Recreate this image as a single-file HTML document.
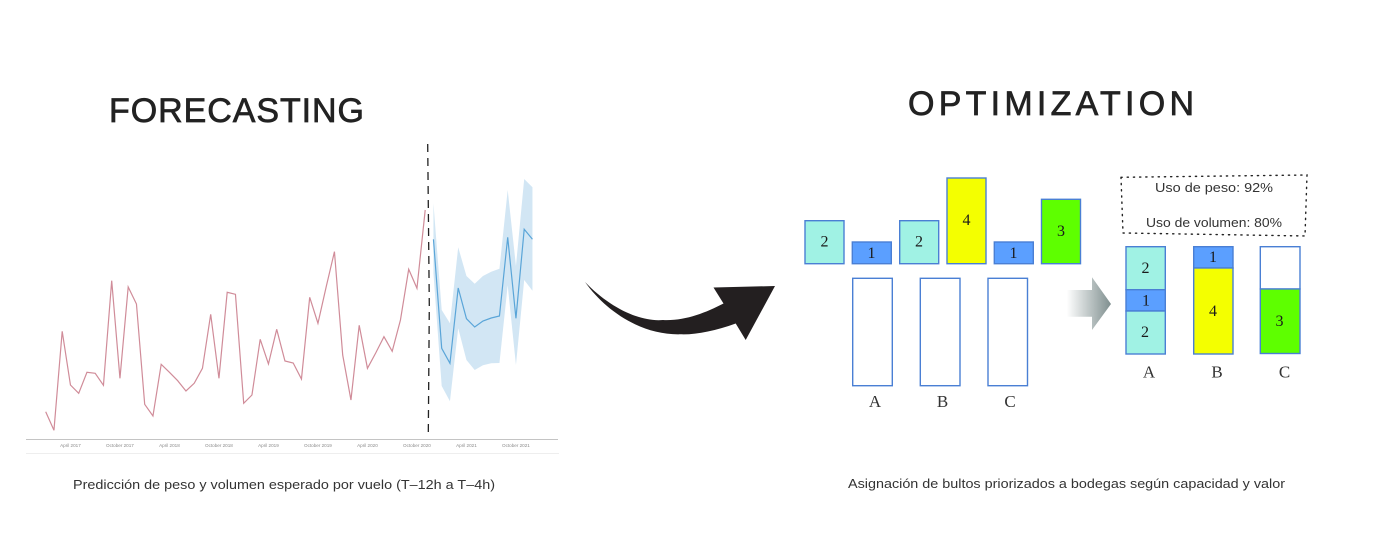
<!DOCTYPE html>
<html lang="es">
<head>
<meta charset="utf-8">
<title>Forecasting and Optimization</title>
<style>
html,body{margin:0;padding:0;background:#fff;width:1380px;height:534px;overflow:hidden}
svg{display:block}
.title{font-family:"Liberation Sans",sans-serif;font-size:34px;fill:#222;stroke:#222;stroke-width:.7}
.cap{font-family:"Liberation Sans",sans-serif;font-size:13px;fill:#333}
.num{font-family:"Liberation Serif",serif;font-size:16px;fill:#1a1a1a;text-anchor:middle}
.bin{font-family:"Liberation Serif",serif;font-size:17px;fill:#333;text-anchor:middle}
.use{font-family:"Liberation Sans",sans-serif;font-size:13px;fill:#333}
.b{stroke:#4a7fd4;stroke-width:1.4}
.teal{fill:#a0f2e4}.blue{fill:#5b9fff}.yel{fill:#f4ff00}.grn{fill:#5eff00}.emp{fill:#fff}
</style>
</head>
<body>
<svg id="root" width="1380" height="534" viewBox="0 0 1380 534" xmlns="http://www.w3.org/2000/svg">
<defs>
<linearGradient id="gray-fade" x1="0" x2="1" y1="0" y2="0">
<stop offset="0" stop-color="#fff"/>
<stop offset="1" stop-color="#7f8f8f"/>
</linearGradient>
</defs>

<text class="title" x="109" y="122" textLength="255" lengthAdjust="spacing">FORECASTING</text>
<text class="title" x="908" y="115" textLength="286" lengthAdjust="spacing">OPTIMIZATION</text>

<g id="chart"></g>

<text class="cap" x="73" y="489" textLength="422" lengthAdjust="spacingAndGlyphs">Predicción de peso y volumen esperado por vuelo (T–12h a T–4h)</text>
<text class="cap" x="848" y="488" textLength="437" lengthAdjust="spacingAndGlyphs">Asignación de bultos priorizados a bodegas según capacidad y valor</text>

<path d="M585 282 C610 308 640 322 663 320 C685 321 705 313 723.500 303.500 L713.500 287.500 L775 286 L745.700 340 L735.700 323.500 C715 331 695 335 680 334.300 C640 335 605 310 585 282 Z" fill="#231f20"/>

<g>
<rect class="b teal" x="805" y="220.700" width="39" height="43"/>
<text class="num" x="824.500" y="246.500">2</text>
<rect class="b blue" x="852.300" y="242" width="39" height="21.700"/>
<text class="num" x="871.500" y="258">1</text>
<rect class="b teal" x="899.700" y="220.700" width="39" height="43"/>
<text class="num" x="919" y="246.500">2</text>
<rect class="b yel" x="947" y="178" width="39" height="85.700"/>
<text class="num" x="966.500" y="225">4</text>
<rect class="b blue" x="994.300" y="242" width="39" height="21.700"/>
<text class="num" x="1013.500" y="258">1</text>
<rect class="b grn" x="1041.500" y="199.300" width="39" height="64.400"/>
<text class="num" x="1061" y="236">3</text>
</g>

<g>
<rect class="b emp" x="852.700" y="278.300" width="39.600" height="107.400"/>
<rect class="b emp" x="920.300" y="278.300" width="39.700" height="107.400"/>
<rect class="b emp" x="988" y="278.300" width="39.500" height="107.400"/>
<text class="bin" x="875" y="407">A</text>
<text class="bin" x="942.500" y="407">B</text>
<text class="bin" x="1010" y="407">C</text>
</g>

<path d="M1066.700 290 H1092 V277.300 L1111 304 L1092 330 V316.700 H1066.700 Z" fill="url(#gray-fade)"/>

<path d="M1121 177.300 L1307 175 L1305 236 L1123 233 Z" fill="none" stroke="#222" stroke-width="1.400" stroke-dasharray="1.200 5" stroke-linecap="round"/>
<text class="use" x="1155" y="192" textLength="118" lengthAdjust="spacingAndGlyphs">Uso de peso: 92%</text>
<text class="use" x="1146" y="227" textLength="136" lengthAdjust="spacingAndGlyphs">Uso de volumen: 80%</text>

<g>
<rect class="b teal" x="1126" y="246.700" width="39.300" height="43"/>
<rect class="b blue" x="1126" y="289.700" width="39.300" height="21.300"/>
<rect class="b teal" x="1126" y="311" width="39.300" height="43"/>
<text class="num" x="1145.500" y="273">2</text>
<text class="num" x="1146" y="305.500">1</text>
<text class="num" x="1145" y="337">2</text>

<rect class="b blue" x="1193.700" y="246.700" width="39.300" height="21.300"/>
<rect class="b yel" x="1193.700" y="268" width="39.300" height="86"/>
<text class="num" x="1213" y="262">1</text>
<text class="num" x="1213" y="316">4</text>

<rect class="b emp" x="1260.300" y="246.700" width="39.700" height="42.300"/>
<rect class="b grn" x="1260.300" y="289" width="39.700" height="64.500"/>
<text class="num" x="1279.500" y="326">3</text>

<text class="bin" x="1149" y="377.500">A</text>
<text class="bin" x="1217" y="377.500">B</text>
<text class="bin" x="1284.500" y="377.500">C</text>
</g>
</svg>

<script>
const historyValues = [27.3,8.7,107.7,54,45.7,66.7,65.7,53.7,158.3,60.7,152,135,34.7,23,74.7,66.7,58.3,48,55.7,70.7,124.7,60.7,146.7,144.7,35.7,44,99.7,75,109.7,78,76,60,141.7,115.7,152.3,187.3,84,39,113.7,70.7,86,102.3,87.7,119,169.7,150.7,229];
const forecastValues = [199.7,90.7,75.7,151,120.3,112,118,121,123,201.7,120.7,209.7,199.7];
const forecastUpper = [235.7,129,115.7,191.7,163,155.3,163,167.3,170.3,249,173,260,251.7];
const forecastLower = [165.7,53,37.7,110.7,79,69,73.7,75.7,76,153.7,74,159,148.3];
const tickLabels = ["April 2017","October 2017","April 2018","October 2018","April 2019","October 2019","April 2020","October 2020","April 2021","October 2021"];
const firstTickMonth = 3;
const monthsPerTick = 6;
const forecastStartMonth = historyValues.length;

function xScale(month){ return 45.7 + month * 8.25; }
function yScale(value){ return 439 - value; }

const NS = "http://www.w3.org/2000/svg";
const chart = document.getElementById("chart");

function linePoints(values, startMonth){
  return values.map(function(v,i){ return xScale(startMonth + i).toFixed(2) + "," + yScale(v).toFixed(2); });
}

const band = document.createElementNS(NS, "polygon");
band.setAttribute("points", linePoints(forecastUpper, forecastStartMonth).concat(linePoints(forecastLower, forecastStartMonth).reverse()).join(" "));
band.setAttribute("fill", "#d2e6f4");


chart.appendChild(band);

const historyLine = document.createElementNS(NS, "polyline");
historyLine.setAttribute("points", linePoints(historyValues, 0).join(" "));
historyLine.setAttribute("fill", "none");
historyLine.setAttribute("stroke", "#d08c99");
historyLine.setAttribute("stroke-width", "1.200");


chart.appendChild(historyLine);

const forecastLine = document.createElementNS(NS, "polyline");
forecastLine.setAttribute("points", linePoints(forecastValues, forecastStartMonth).join(" "));
forecastLine.setAttribute("fill", "none");
forecastLine.setAttribute("stroke", "#5aa5d8");
forecastLine.setAttribute("stroke-width", "1.200");


chart.appendChild(forecastLine);

const axisLine = document.createElementNS(NS, "line");
axisLine.setAttribute("x1", "26");
axisLine.setAttribute("x2", "558");
axisLine.setAttribute("y1", "439.500");
axisLine.setAttribute("y2", "439.500");
axisLine.setAttribute("stroke", "#c4c4c4");
axisLine.setAttribute("stroke-width", "1");


chart.appendChild(axisLine);

const footerLine = document.createElementNS(NS, "line");
footerLine.setAttribute("x1", "26");
footerLine.setAttribute("x2", "559");
footerLine.setAttribute("y1", "453.500");
footerLine.setAttribute("y2", "453.500");
footerLine.setAttribute("stroke", "#eeeeee");
footerLine.setAttribute("stroke-width", "1");


chart.appendChild(footerLine);

tickLabels.forEach(function(label, i){
  const t = document.createElementNS(NS, "text");
  t.setAttribute("x", xScale(firstTickMonth + i * monthsPerTick).toFixed(2));
  t.setAttribute("y", "447");
  t.setAttribute("text-anchor", "middle");
  t.setAttribute("font-family", '"Liberation Sans", sans-serif');
  t.setAttribute("font-size", "4.6");
  t.setAttribute("fill", "#8a8a8a");
  
  
  t.textContent = label;
  chart.appendChild(t);
});

const divider = document.createElementNS(NS, "path");
divider.setAttribute("d", "M427.700 144 L429.300 306 L428.300 434");
divider.setAttribute("fill", "none");
divider.setAttribute("stroke", "#222222");
divider.setAttribute("stroke-width", "1.300");
divider.setAttribute("stroke-dasharray", "8 6");


chart.appendChild(divider);
</script>
</body>
</html>
